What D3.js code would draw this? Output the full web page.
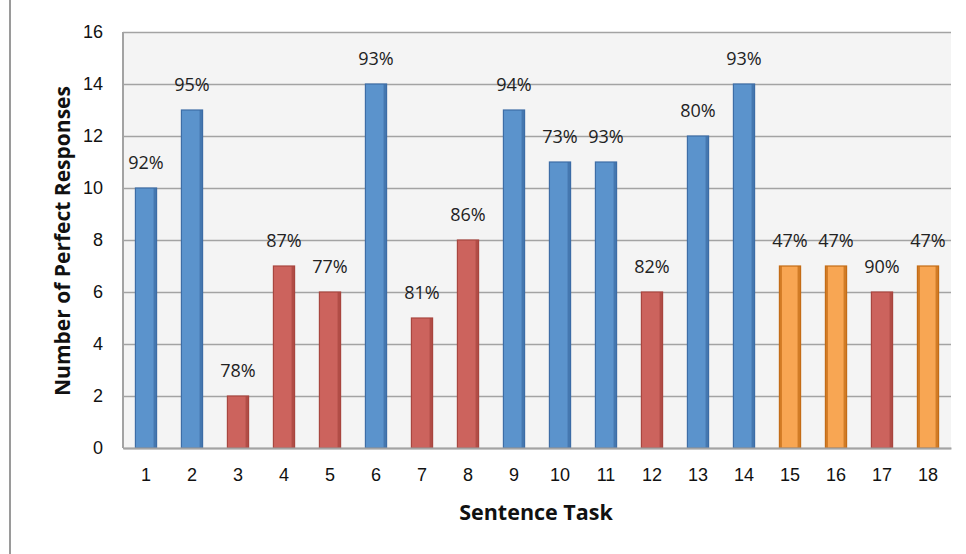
<!DOCTYPE html>
<html>
<head>
<meta charset="utf-8">
<script src="https://cdn.jsdelivr.net/npm/d3@7"></script>
<style>
  html, body { margin: 0; padding: 0; background: #fff; }
  svg { display: block; font-family: "Open Sans", Lato, sans-serif; }
</style>
</head>
<body>
<svg id="chart" width="966" height="554"></svg>
<script>
// Sentence tasks and number of perfect responses per task
const tasks = ["1","2","3","4","5","6","7","8","9","10","11","12","13","14","15","16","17","18"];
const perfectResponses = [10, 13, 2, 7, 6, 14, 5, 8, 13, 11, 11, 6, 12, 14, 7, 7, 6, 7];
const percentLabels = ["92%","95%","78%","87%","77%","93%","81%","86%","94%","73%","93%","82%","80%","93%","47%","47%","90%","47%"];
// Task group for each bar (drives colour)
const taskGroup = ["A","A","B","B","B","A","B","B","A","A","A","B","A","A","C","C","B","C"];
const yTicks = [0, 2, 4, 6, 8, 10, 12, 14, 16];

const groupFill = { A: "#5b93cc", B: "#cc635d", C: "#f8a653" };
const groupEdge = { A: "#3d6da6", B: "#a8463f", C: "#c46d17" };

const margin = { left: 123, right: 15, top: 32, bottom: 106 };
const W = 966, H = 554;
const svg = d3.select("#chart");

const x = d3.scaleBand().domain(tasks).range([margin.left, W - margin.right]).paddingInner(0.54).paddingOuter(0.27);
const y = d3.scaleLinear().domain([0, 16]).range([H - margin.bottom, margin.top]);

// outer frame line on the left
svg.append("line").attr("x1", 10).attr("x2", 10).attr("y1", 0).attr("y2", H)
  .attr("stroke", "#9a9a9a").attr("stroke-width", 2);

// plot background
svg.append("rect").attr("x", margin.left).attr("y", margin.top)
  .attr("width", W - margin.right - margin.left).attr("height", y(0) - margin.top)
  .attr("fill", "#f4f4f4");

// horizontal gridlines + y tick labels
const yAxis = d3.axisLeft(y).tickValues(yTicks).tickSize(-(W - margin.right - margin.left)).tickPadding(20).tickFormat(d3.format("d"));
const gy = svg.append("g").attr("transform", `translate(${margin.left},0)`).call(yAxis);
gy.select(".domain").remove();
gy.selectAll(".tick line").attr("stroke", "#a3a3a3").attr("stroke-width", 1.6);
gy.selectAll(".tick text").attr("fill", "#111").style("font-size", "18px");

// plot area left edge
svg.append("line").attr("x1", margin.left).attr("x2", margin.left).attr("y1", margin.top).attr("y2", y(0))
  .attr("stroke", "#a3a3a3").attr("stroke-width", 2);

// bars
const data = tasks.map((t, i) => ({ t, v: perfectResponses[i], label: percentLabels[i], g: taskGroup[i] }));
const bars = svg.append("g").selectAll("g").data(data).join("g");
bars.append("rect")
  .attr("x", d => x(d.t)).attr("y", d => y(d.v))
  .attr("width", x.bandwidth()).attr("height", d => y(0) - y(d.v))
  .attr("fill", d => groupFill[d.g]).attr("stroke", d => groupEdge[d.g]).attr("stroke-width", 1.2);
// darker shaded right edge
bars.append("rect")
  .attr("x", d => x(d.t) + x.bandwidth() - 3).attr("y", d => y(d.v))
  .attr("width", 3).attr("height", d => y(0) - y(d.v))
  .attr("fill", d => groupEdge[d.g]).attr("opacity", 0.75);
bars.filter(d => d.g === "C").append("rect")
  .attr("x", d => x(d.t)).attr("y", d => y(d.v))
  .attr("width", 2.5).attr("height", d => y(0) - y(d.v))
  .attr("fill", d => groupEdge[d.g]).attr("opacity", 0.75);

// value labels
bars.append("text")
  .attr("x", d => x(d.t) + x.bandwidth() / 2).attr("y", d => y(d.v) - 19)
  .attr("text-anchor", "middle").attr("fill", "#222").style("font-size", "18px")
  .text(d => d.label);

// x axis
const xAxis = d3.axisBottom(x).tickSize(0).tickPadding(20);
const gx = svg.append("g").attr("transform", `translate(0,${y(0)})`).call(xAxis);
gx.select(".domain").attr("stroke", "#a3a3a3").attr("stroke-width", 2);
gx.selectAll(".tick text").attr("fill", "#111").style("font-size", "18px");

// axis titles
svg.append("text").attr("x", (margin.left + W - margin.right) / 2 - 1).attr("y", 520)
  .attr("text-anchor", "middle").style("font-size", "21.5px").style("font-weight", "bold").attr("fill", "#111")
  .text("Sentence Task");
svg.append("text").attr("transform", `translate(70,${(margin.top + y(0)) / 2 + 1}) rotate(-90)`)
  .attr("text-anchor", "middle").style("font-size", "21px").style("font-weight", "bold").attr("fill", "#111")
  .text("Number of Perfect Responses");
</script>
</body>
</html>
